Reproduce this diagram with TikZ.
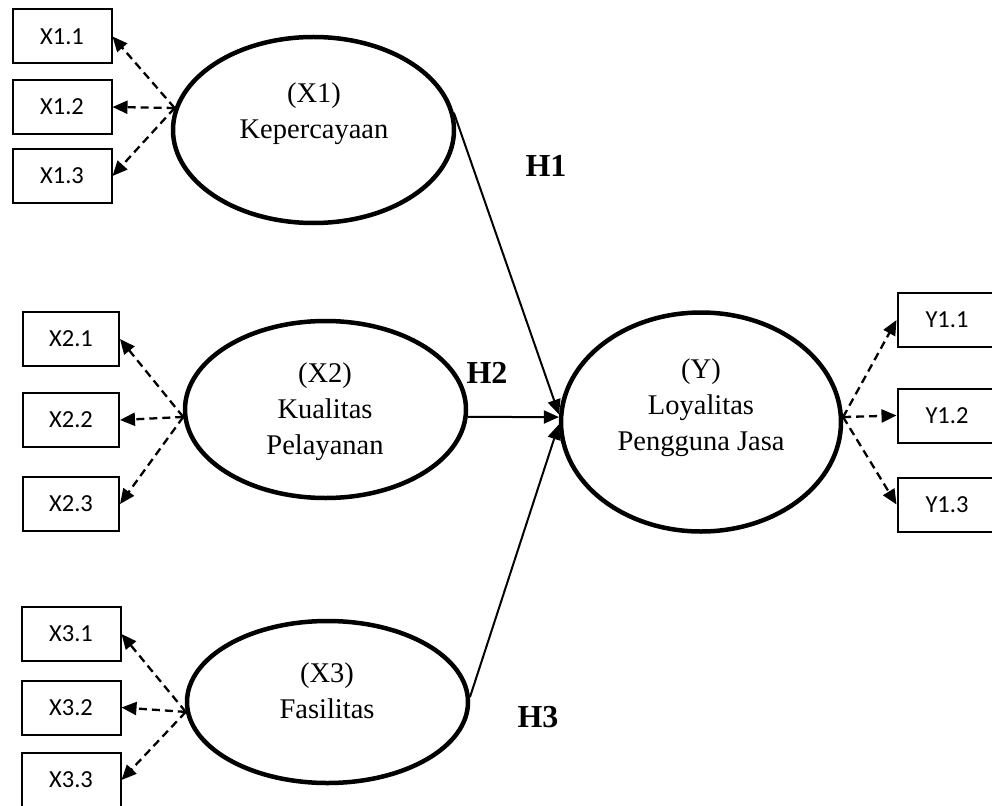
\documentclass[tikz,border=0pt]{standalone}
\usepackage{fontspec}
\setmainfont{Liberation Serif}
\newfontfamily\boxfont{Carlito}
\usetikzlibrary{arrows.meta}
\usetikzlibrary{shapes.geometric}
\tikzset{>={Triangle[length=15pt,width=13pt]}}
\tikzset{
  latent/.style={ellipse, draw, line width=4.5pt, minimum width=281pt, inner sep=0pt},
  lattext/.style={align=center, font=\fontsize{28.5}{36}\selectfont},
  indbox/.style={rectangle, draw, line width=2pt, minimum width=99pt, minimum height=54pt, inner sep=0pt, font=\boxfont\fontsize{24.5}{28}\selectfont},
  loadarrow/.style={->, dashed, line width=2.3pt, dash pattern=on 8pt off 5pt},
  patharrow/.style={->, line width=2pt},
  hyp/.style={font=\bfseries\fontsize{32}{36}\selectfont}
}

\begin{document}
\begin{tikzpicture}[x=1pt, y=-1pt]

    \useasboundingbox (0,0) rectangle (992,805);
    \clip (0,0) rectangle (992,805);

    % latent variables
    \node[latent, minimum height=186pt] (X1) at (313.5,130) {};
    \node[latent, minimum height=177pt] (X2) at (325.5,409.5) {};
    \node[latent, minimum height=162pt] (X3) at (327.5,702) {};
    \node[latent, minimum width=280pt, minimum height=219pt] (Y) at (701,422) {};

    \node[lattext] (X1txt) at (314,114) {(X1)\\Kepercayaan};
    \node[lattext] (X2txt) at (325,412) {(X2)\\Kualitas\\Pelayanan};
    \node[lattext] (X3txt) at (327,691) {(X3)\\Fasilitas};
    \node[lattext] (Ytxt) at (701,408) {(Y)\\Loyalitas\\Pengguna Jasa};

    % indicators
    \foreach \i/\y in {1/36.5,2/107,3/176}
    \node[indbox] (X1\i) at (62,\y) {X1.\i};
    \foreach \i/\y in {1/339,2/420,3/504}
    \node[indbox, minimum width=96pt] (X2\i) at (71,\y) {X2.\i};
    \foreach \i/\y in {1/634,2/707.5,3/780}
    \node[indbox] (X3\i) at (71,\y) {X3.\i};
    \foreach \i/\y in {1/320,2/415.5,3/504.5}
    \node[indbox] (Y1\i) at (947,\y) {Y1.\i};

    \foreach \i in {1,2,3}
    \draw[loadarrow] (X1.171) -- (X1\i.east);
    \foreach \i in {1,2,3}
    \draw[loadarrow] (X2.183) -- (X2\i.east);
    \foreach \i in {1,2,3}
    \draw[loadarrow] (X3.184) -- (X3\i.east);
    \foreach \i in {1,2,3}
    \draw[loadarrow] (Y.2) -- (Y1\i.west);

    % structural paths
    \draw[patharrow] (X1.7) -- (Y.177);
    \draw[patharrow] (X2.-3) -- (Y.178.5);
    \draw[patharrow] (X3.2) -- (Y.181.5);

    \node[hyp] (H1) at (546,166) {H1};
    \node[hyp] (H2) at (487,373) {H2};
    \node[hyp] (H3) at (538,717) {H3};

\end{tikzpicture}
\end{document}
